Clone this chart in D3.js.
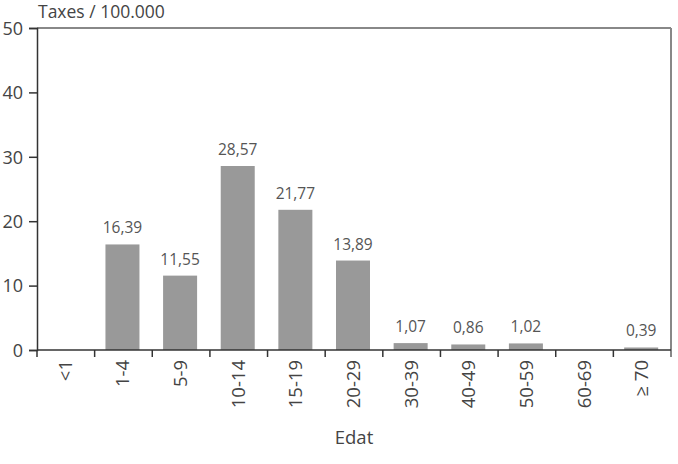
<!DOCTYPE html>
<html><head><meta charset="utf-8">
<script src="https://cdn.jsdelivr.net/npm/d3@7"></script>
<style>body{margin:0;background:#fff}svg{display:block}text{font-family:"Open Sans",sans-serif}</style>
</head><body>
<svg id="c" width="678" height="464"></svg>
<script>
const categories = ["<1","1-4","5-9","10-14","15-19","20-29","30-39","40-49","50-59","60-69","≥ 70"];
const values = [null,16.39,11.55,28.57,21.77,13.89,1.07,0.86,1.02,null,0.39];
const valueLabels = ["","16,39","11,55","28,57","21,77","13,89","1,07","0,86","1,02","","0,39"];
const yTicks = [0,10,20,30,40,50];

const svg = d3.select("#c");
const m = {l:37, r:671, t:28, b:350};
const x = d3.scaleBand().domain(categories).range([m.l, m.r]).paddingInner(0.41).paddingOuter(0.205);
const y = d3.scaleLinear().domain([0,50]).range([m.b, m.t]);
const data = categories.map((c,i)=>({c,v:values[i],l:valueLabels[i]})).filter(d=>d.v!=null);

// bars
svg.selectAll("rect.bar").data(data)
  .enter().append("rect").attr("fill","#999")
  .attr("x",d=>x(d.c)-1).attr("width",x.bandwidth())
  .attr("y",d=>y(d.v)).attr("height",d=>y(0)-y(d.v));
svg.selectAll("text.val").data(data)
  .enter().append("text").attr("font-size",15.5).attr("fill","#555").attr("text-anchor","middle")
  .attr("x",d=>x(d.c)+x.bandwidth()/2-1).attr("y",d=>y(d.v)-11).text(d=>d.l);

// frame top/right
svg.append("line").attr("x1",m.l).attr("x2",m.r).attr("y1",m.t).attr("y2",m.t).attr("stroke","#888").attr("stroke-width",2);
svg.append("line").attr("x1",m.r).attr("x2",m.r).attr("y1",m.t).attr("y2",m.b+7).attr("stroke","#888").attr("stroke-width",2);

// y axis
const ya = svg.append("g").attr("transform",`translate(${m.l},0)`)
  .call(d3.axisLeft(y).tickValues(yTicks).tickSize(8).tickPadding(6).tickFormat(d3.format("d")));
ya.select(".domain").attr("stroke","#333").attr("stroke-width",1.5);
ya.selectAll(".tick line").attr("stroke","#333").attr("stroke-width",1.5);
ya.selectAll("text").attr("font-size",18).attr("fill","#444").attr("font-family","'Open Sans',sans-serif").attr("dy","0.35em");

// x axis: boundary ticks
const xa = svg.append("g");
xa.append("line").attr("x1",m.l).attr("x2",m.r).attr("y1",m.b).attr("y2",m.b).attr("stroke","#333").attr("stroke-width",1.5);
const step = x.step();
const bounds = categories.map((c,i)=> x(c) - x.paddingInner()*step/2 );
bounds.forEach(b=>{
  xa.append("line").attr("x1",b).attr("x2",b).attr("y1",m.b).attr("y2",m.b+7).attr("stroke","#333").attr("stroke-width",1.5);
});
xa.selectAll("text.cat").data(categories).enter().append("text")
  .attr("font-size",18.5).attr("fill","#444").attr("text-anchor","end")
  .attr("transform",d=>`translate(${x(d)+x.bandwidth()/2+6},${m.b+10}) rotate(-90)`)
  .text(d=>d);

svg.append("text").attr("x",354).attr("y",444).attr("text-anchor","middle").attr("font-size",18.5).attr("fill","#444").text("Edat");
svg.append("text").attr("x",38).attr("y",18).attr("font-size",17.5).attr("fill","#444").text("Taxes / 100.000");
</script>
</body></html>
